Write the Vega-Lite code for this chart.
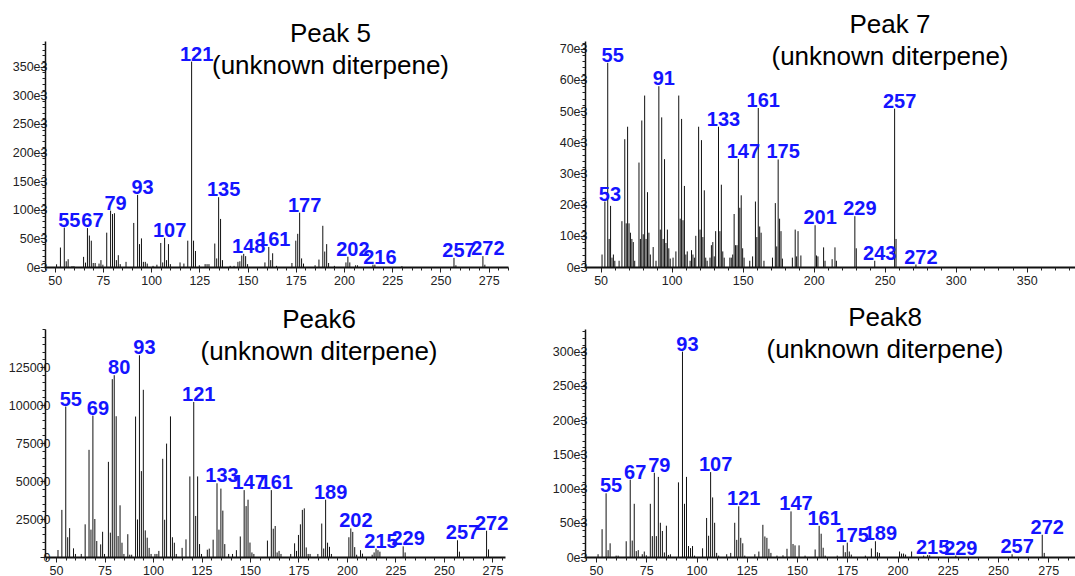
{
"$schema": "https://vega.github.io/schema/vega-lite/v6.json",
"padding": {"left": 8, "top": 12, "right": 0, "bottom": 0},
"background": "white",
"config": {
 "view": {"stroke": null},
 "axis": {"grid": false, "title": null, "labelFont": "Liberation Sans", "labelFontSize": 12.5, "labelColor": "#222", "tickColor": "#222", "domainColor": "#111", "labelOverlap": false, "labelFlush": false},
 "title": {"font": "Liberation Sans", "fontSize": 26, "fontWeight": "normal", "color": "black", "lineHeight": 32, "anchor": "middle", "frame": "group"}
},
"datasets": {
 "p5": [
  {"mz":51,"i":4700},{"mz":53,"i":34000},{"mz":55,"i":69000,"label":"55"},{"mz":56,"i":10000},{"mz":57,"i":13600},{"mz":59,"i":1500},{"mz":60,"i":1500},
  {"mz":65,"i":17700},{"mz":66,"i":7700},{"mz":67,"i":68000,"label":"67"},{"mz":68,"i":55000},{"mz":69,"i":46000},{"mz":70,"i":7000},{"mz":71,"i":7000},
  {"mz":73,"i":6000},{"mz":74,"i":12000},{"mz":75,"i":4000},{"mz":77,"i":60000},{"mz":79,"i":98500,"label":"79"},{"mz":80,"i":92600},{"mz":81,"i":94000},
  {"mz":82,"i":12000},{"mz":83,"i":20600},{"mz":84,"i":5000},{"mz":87,"i":9000},{"mz":91,"i":77000},{"mz":93,"i":126000,"label":"93"},{"mz":94,"i":40000},
  {"mz":95,"i":50000},{"mz":96,"i":9000},{"mz":97,"i":9000},{"mz":98,"i":6000},{"mz":101,"i":2000},{"mz":103,"i":4000},{"mz":105,"i":42000},{"mz":106,"i":8000},
  {"mz":107,"i":51000,"label":"107"},{"mz":108,"i":12000},{"mz":109,"i":40000},{"mz":110,"i":5000},{"mz":115,"i":8000},{"mz":117,"i":6000},{"mz":119,"i":46000},
  {"mz":121,"i":359000,"label":"121"},{"mz":122,"i":46000},{"mz":123,"i":28000},{"mz":125,"i":3000},{"mz":128,"i":5000},{"mz":129,"i":5000},{"mz":130,"i":5000},
  {"mz":133,"i":41000},{"mz":134,"i":15000},{"mz":135,"i":122000,"label":"135"},{"mz":136,"i":84000},{"mz":137,"i":12000},{"mz":141,"i":2000},{"mz":143,"i":2000},
  {"mz":145,"i":9000},{"mz":146,"i":10000},{"mz":147,"i":20000},{"mz":148,"i":23000,"label":"148"},{"mz":149,"i":19000},{"mz":150,"i":5000},
  {"mz":159,"i":8000},{"mz":161,"i":35000,"label":"161"},{"mz":162,"i":12000},{"mz":163,"i":24000},{"mz":165,"i":2000},
  {"mz":173,"i":7000},{"mz":175,"i":46000},{"mz":176,"i":58000},{"mz":177,"i":95000,"label":"177"},{"mz":178,"i":15000},{"mz":179,"i":6000},
  {"mz":185,"i":3000},{"mz":187,"i":13000},{"mz":189,"i":72000},{"mz":190,"i":27000},{"mz":191,"i":40000},{"mz":192,"i":7000},{"mz":195,"i":2000},
  {"mz":201,"i":8000},{"mz":202,"i":18000,"label":"202"},{"mz":203,"i":8000},{"mz":206,"i":3000},{"mz":207,"i":3000},{"mz":215,"i":4000},{"mz":216,"i":4000,"label":"216"},
  {"mz":230,"i":1500},{"mz":257,"i":16000,"label":"257"},{"mz":258,"i":3000},{"mz":272,"i":19000,"label":"272"},{"mz":273,"i":4000}
 ],
 "p7": [
  {"mz":51,"i":4000},{"mz":53,"i":21000,"label":"53"},{"mz":55,"i":65500,"label":"55"},{"mz":56,"i":9000},{"mz":57,"i":19600},{"mz":58,"i":3000},{"mz":59,"i":4000},{"mz":60,"i":2000},
  {"mz":63,"i":2000},{"mz":65,"i":14700},{"mz":67,"i":41000},{"mz":68,"i":14000},{"mz":69,"i":45000},{"mz":70,"i":14000},{"mz":71,"i":11000},{"mz":72,"i":9000},{"mz":73,"i":8000},{"mz":74,"i":2000},
  {"mz":77,"i":33500},{"mz":78,"i":9000},{"mz":79,"i":47000},{"mz":80,"i":10500},{"mz":81,"i":55000},{"mz":82,"i":9000},{"mz":83,"i":24000},{"mz":84,"i":11000},{"mz":85,"i":4000},{"mz":87,"i":6400},
  {"mz":89,"i":2000},{"mz":91,"i":58000,"label":"91"},{"mz":92,"i":12000},{"mz":93,"i":48000},{"mz":94,"i":9000},{"mz":95,"i":34600},{"mz":96,"i":7700},{"mz":97,"i":12000},{"mz":98,"i":6000},{"mz":99,"i":2700},
  {"mz":101,"i":3000},{"mz":103,"i":5000},{"mz":105,"i":55000},{"mz":106,"i":15500},{"mz":107,"i":47500},{"mz":108,"i":15000},{"mz":109,"i":26000},{"mz":110,"i":4000},{"mz":111,"i":5000},
  {"mz":113,"i":2000},{"mz":114,"i":5400},{"mz":115,"i":4000},{"mz":116,"i":3000},{"mz":117,"i":10000},{"mz":119,"i":45000},{"mz":120,"i":12000},{"mz":121,"i":40700},{"mz":122,"i":9600},{"mz":123,"i":24600},{"mz":124,"i":3000},{"mz":125,"i":2000},
  {"mz":127,"i":3000},{"mz":128,"i":7000},{"mz":129,"i":8000},{"mz":130,"i":3400},{"mz":131,"i":11500},{"mz":133,"i":45000,"label":"133"},{"mz":134,"i":11500},{"mz":135,"i":26400},{"mz":136,"i":5000},{"mz":137,"i":3000},
  {"mz":141,"i":3000},{"mz":142,"i":3000},{"mz":143,"i":4000},{"mz":144,"i":17000},{"mz":145,"i":7000},{"mz":146,"i":7000},{"mz":147,"i":34700,"label":"147"},{"mz":148,"i":19000},{"mz":149,"i":23000},{"mz":150,"i":6000},{"mz":151,"i":3000},
  {"mz":155,"i":2000},{"mz":157,"i":3400},{"mz":159,"i":21000},{"mz":160,"i":9600},{"mz":161,"i":51000,"label":"161"},{"mz":162,"i":13000},{"mz":163,"i":11000},{"mz":165,"i":2000},
  {"mz":171,"i":3000},{"mz":173,"i":20500},{"mz":174,"i":6600},{"mz":175,"i":34500,"label":"175"},{"mz":176,"i":15500},{"mz":177,"i":11500},{"mz":178,"i":2700},
  {"mz":185,"i":3000},{"mz":187,"i":12000},{"mz":188,"i":3400},{"mz":189,"i":11500},{"mz":191,"i":3700},
  {"mz":201,"i":13400,"label":"201"},{"mz":202,"i":3700},{"mz":203,"i":3400},{"mz":207,"i":6300},{"mz":208,"i":2000},{"mz":213,"i":2500},{"mz":215,"i":6300},{"mz":216,"i":2000},
  {"mz":229,"i":16300,"label":"229"},{"mz":230,"i":6000},{"mz":243,"i":2000,"label":"243"},{"mz":257,"i":50800,"label":"257"},{"mz":258,"i":9000},{"mz":272,"i":800,"label":"272"}
 ],
 "p6": [
  {"mz":51,"i":4600},{"mz":53,"i":31000},{"mz":55,"i":99000,"label":"55"},{"mz":56,"i":13000},{"mz":57,"i":19000},{"mz":59,"i":5700},{"mz":60,"i":2000},{"mz":63,"i":2000},
  {"mz":65,"i":21500},{"mz":67,"i":70500},{"mz":68,"i":18000},{"mz":69,"i":93000,"label":"69"},{"mz":70,"i":25000},{"mz":71,"i":10500},{"mz":73,"i":8300},{"mz":74,"i":16600},{"mz":75,"i":2000},
  {"mz":77,"i":62600},{"mz":78,"i":16000},{"mz":79,"i":117000},{"mz":80,"i":119600,"label":"80"},{"mz":81,"i":92600},{"mz":82,"i":13800},{"mz":83,"i":34000},{"mz":84,"i":9400},{"mz":85,"i":2000},
  {"mz":87,"i":15000},{"mz":88,"i":1500},{"mz":89,"i":1500},{"mz":91,"i":92400},{"mz":92,"i":24700},{"mz":93,"i":132700,"label":"93"},{"mz":94,"i":56500},{"mz":95,"i":110000},{"mz":96,"i":17500},{"mz":97,"i":12700},{"mz":98,"i":6000},{"mz":99,"i":2000},
  {"mz":101,"i":2000},{"mz":102,"i":2000},{"mz":103,"i":4000},{"mz":105,"i":64600},{"mz":106,"i":24500},{"mz":107,"i":74600},{"mz":109,"i":92500},{"mz":110,"i":13000},{"mz":111,"i":9400},{"mz":112,"i":2000},
  {"mz":115,"i":6000},{"mz":117,"i":11600},{"mz":119,"i":53000},{"mz":121,"i":102000,"label":"121"},{"mz":122,"i":27000},{"mz":123,"i":53000},{"mz":124,"i":8500},{"mz":125,"i":2000},
  {"mz":128,"i":4800},{"mz":129,"i":5500},{"mz":131,"i":11400},{"mz":133,"i":48500,"label":"133"},{"mz":134,"i":18000},{"mz":135,"i":45000},{"mz":136,"i":30500},{"mz":137,"i":8500},{"mz":139,"i":2000},
  {"mz":141,"i":2000},{"mz":143,"i":4500},{"mz":145,"i":13500},{"mz":147,"i":44000,"label":"147"},{"mz":148,"i":33500},{"mz":149,"i":37700},{"mz":150,"i":9500},{"mz":151,"i":3000},{"mz":152,"i":2000},
  {"mz":159,"i":10800},{"mz":161,"i":44000,"label":"161"},{"mz":162,"i":18600},{"mz":163,"i":20400},{"mz":164,"i":3000},{"mz":165,"i":4000},{"mz":166,"i":2000},
  {"mz":171,"i":2000},{"mz":173,"i":9000},{"mz":174,"i":4000},{"mz":175,"i":14500},{"mz":176,"i":21500},{"mz":177,"i":31000},{"mz":178,"i":32000},{"mz":179,"i":6300},{"mz":180,"i":2000},{"mz":181,"i":2000},
  {"mz":185,"i":2000},{"mz":187,"i":22000},{"mz":188,"i":5600},{"mz":189,"i":37700,"label":"189"},{"mz":190,"i":9400},{"mz":191,"i":6700},{"mz":192,"i":2000},
  {"mz":201,"i":13000},{"mz":202,"i":18800,"label":"202"},{"mz":203,"i":16500},{"mz":204,"i":6500},{"mz":205,"i":1500},{"mz":207,"i":4500},{"mz":208,"i":2200},
  {"mz":213,"i":1500},{"mz":214,"i":3000},{"mz":215,"i":5500,"label":"215"},{"mz":216,"i":4500},{"mz":217,"i":3500},
  {"mz":229,"i":7000,"label":"229"},{"mz":230,"i":3000},{"mz":257,"i":11000,"label":"257"},{"mz":258,"i":3500},{"mz":272,"i":17300,"label":"272"},{"mz":273,"i":5000}
 ],
 "p8": [
  {"mz":51,"i":4000},{"mz":53,"i":40600},{"mz":55,"i":93000,"label":"55"},{"mz":56,"i":10000},{"mz":57,"i":20000},{"mz":60,"i":2000},{"mz":61,"i":2000},
  {"mz":65,"i":23000},{"mz":67,"i":113000,"label":"67"},{"mz":68,"i":24000},{"mz":69,"i":77700},{"mz":70,"i":8600},{"mz":71,"i":10000},{"mz":73,"i":4000},{"mz":74,"i":8000},{"mz":75,"i":2500},
  {"mz":77,"i":77700},{"mz":78,"i":30500},{"mz":79,"i":123000,"label":"79"},{"mz":80,"i":30500},{"mz":81,"i":117000},{"mz":82,"i":50000},{"mz":83,"i":38000},{"mz":84,"i":6600},{"mz":85,"i":45700},{"mz":86,"i":3000},{"mz":87,"i":4000},
  {"mz":91,"i":109000},{"mz":93,"i":300000,"label":"93"},{"mz":94,"i":77700},{"mz":95,"i":117000},{"mz":96,"i":16000},{"mz":97,"i":13000},{"mz":98,"i":16000},{"mz":99,"i":2000},
  {"mz":103,"i":12700},{"mz":105,"i":57000},{"mz":106,"i":31000},{"mz":107,"i":124000,"label":"107"},{"mz":108,"i":87000},{"mz":109,"i":50000},{"mz":110,"i":6000},{"mz":111,"i":2000},
  {"mz":115,"i":4000},{"mz":117,"i":6000},{"mz":119,"i":50000},{"mz":120,"i":25000},{"mz":121,"i":74000,"label":"121"},{"mz":122,"i":28000},{"mz":123,"i":20000},{"mz":124,"i":2000},
  {"mz":129,"i":4000},{"mz":131,"i":8000},{"mz":133,"i":47000},{"mz":134,"i":30000},{"mz":135,"i":28000},{"mz":136,"i":12000},{"mz":137,"i":6000},
  {"mz":140,"i":2000},{"mz":143,"i":2500},{"mz":145,"i":12000},{"mz":147,"i":66600,"label":"147"},{"mz":148,"i":19000},{"mz":149,"i":17000},{"mz":151,"i":17000},{"mz":154,"i":2000},
  {"mz":159,"i":11000},{"mz":161,"i":45500,"label":"161"},{"mz":162,"i":34000},{"mz":163,"i":13500},{"mz":164,"i":2000},
  {"mz":170,"i":2000},{"mz":173,"i":17000},{"mz":174,"i":7000},{"mz":175,"i":21000,"label":"175"},{"mz":176,"i":8000},{"mz":177,"i":3500},
  {"mz":184,"i":2000},{"mz":187,"i":12500},{"mz":189,"i":23000,"label":"189"},{"mz":190,"i":7000},{"mz":191,"i":6000},
  {"mz":201,"i":8000},{"mz":202,"i":5000},{"mz":203,"i":5000},{"mz":204,"i":3500},{"mz":207,"i":8000},
  {"mz":213,"i":2000},{"mz":215,"i":3000,"label":"215"},{"mz":216,"i":2500},{"mz":229,"i":2000,"label":"229"},{"mz":257,"i":4000,"label":"257"},{"mz":272,"i":32500,"label":"272"},{"mz":273,"i":6000}
 ]
},
"bounds": "flush",
"columns": 2,
"spacing": {"row": 62, "column": 77},
"concat": [
 {
  "width": 463, "height": 226,
  "data": {"name": "p5"},
  "title": {"text": ["Peak 5", "(unknown diterpene)"], "offset": -38, "dx": 54},
  "resolve": {"axis": {"x": "independent", "y": "independent"}},
  "layer": [
   {"mark": {"type": "rule", "color": "#111", "strokeWidth": 1},
    "encoding": {
     "x": {"field": "mz", "type": "quantitative", "scale": {"domain": [45, 285], "nice": false, "zero": false},
      "axis": {"orient": "bottom", "values": [50,75,100,125,150,175,200,225,250,275], "tickSize": 5, "labelPadding": 2, "domainWidth": 2}},
     "y": {"field": "i", "type": "quantitative", "scale": {"domain": [0, 395000], "nice": false},
      "axis": {"orient": "left", "values": [0,50000,100000,150000,200000,250000,300000,350000], "labelExpr": "(datum.value/1000) + 'e3'", "tickSize": 5, "labelPadding": -7, "domainWidth": 1.5}},
     "y2": {"datum": 0}
    }},
   {"transform": [{"filter": "datum.label"}],
    "mark": {"type": "text", "font": "Liberation Sans", "fontWeight": "bold", "fontSize": 20, "fill": "#1414ff", "align": "center", "baseline": "alphabetic", "dx": 5, "dy": -1},
    "encoding": {
     "x": {"field": "mz", "type": "quantitative", "scale": {"domain": [45, 285], "nice": false, "zero": false},
      "axis": {"orient": "bottom", "values": [45,50,55,60,65,70,75,80,85,90,95,100,105,110,115,120,125,130,135,140,145,150,155,160,165,170,175,180,185,190,195,200,205,210,215,220,225,230,235,240,245,250,255,260,265,270,275,280,285], "labels": false, "domain": false, "tickSize": 3}},
     "y": {"field": "i", "type": "quantitative", "scale": {"domain": [0, 395000], "nice": false},
      "axis": {"orient": "left", "values": [10000,20000,30000,40000,60000,70000,80000,90000,110000,120000,130000,140000,160000,170000,180000,190000,210000,220000,230000,240000,260000,270000,280000,290000,310000,320000,330000,340000,360000,370000,380000,390000], "labels": false, "domain": false, "tickSize": 3}},
     "text": {"field": "label"}
    }}
  ]
 },
 {
  "width": 490, "height": 226,
  "data": {"name": "p7"},
  "title": {"text": ["Peak 7", "(unknown diterpene)"], "offset": -29, "dx": 60},
  "resolve": {"axis": {"x": "independent", "y": "independent"}},
  "layer": [
   {"mark": {"type": "rule", "color": "#111", "strokeWidth": 1},
    "encoding": {
     "x": {"field": "mz", "type": "quantitative", "scale": {"domain": [39, 384], "nice": false, "zero": false},
      "axis": {"orient": "bottom", "values": [50,100,150,200,250,300,350], "tickSize": 5, "labelPadding": 2, "domainWidth": 2}},
     "y": {"field": "i", "type": "quantitative", "scale": {"domain": [0, 72500], "nice": false},
      "axis": {"orient": "left", "values": [0,10000,20000,30000,40000,50000,60000,70000], "labelExpr": "(datum.value/1000) + 'e3'", "tickSize": 5, "labelPadding": -7, "domainWidth": 1.5}},
     "y2": {"datum": 0}
    }},
   {"transform": [{"filter": "datum.label"}],
    "mark": {"type": "text", "font": "Liberation Sans", "fontWeight": "bold", "fontSize": 20, "fill": "#1414ff", "align": "center", "baseline": "alphabetic", "dx": 5, "dy": -1},
    "encoding": {
     "x": {"field": "mz", "type": "quantitative", "scale": {"domain": [39, 384], "nice": false, "zero": false},
      "axis": {"orient": "bottom", "values": [40,60,70,80,90,110,120,130,140,160,170,180,190,210,220,230,240,260,270,280,290,310,320,330,340,360,370,380], "labels": false, "domain": false, "tickSize": 3}},
     "y": {"field": "i", "type": "quantitative", "scale": {"domain": [0, 72500], "nice": false},
      "axis": {"orient": "left", "values": [2000,4000,6000,8000,12000,14000,16000,18000,22000,24000,26000,28000,32000,34000,36000,38000,42000,44000,46000,48000,52000,54000,56000,58000,62000,64000,66000,68000,72000], "labels": false, "domain": false, "tickSize": 3}},
     "text": {"field": "label"}
    }}
  ]
 },
 {
  "width": 460, "height": 228,
  "data": {"name": "p6"},
  "title": {"text": ["Peak6", "(unknown diterpene)"], "offset": -36, "dx": 44},
  "resolve": {"axis": {"x": "independent", "y": "independent"}},
  "layer": [
   {"mark": {"type": "rule", "color": "#111", "strokeWidth": 1},
    "encoding": {
     "x": {"field": "mz", "type": "quantitative", "scale": {"domain": [44.3, 281.5], "nice": false, "zero": false},
      "axis": {"orient": "bottom", "values": [50,75,100,125,150,175,200,225,250,275], "tickSize": 5, "labelPadding": 2, "domainWidth": 2}},
     "y": {"field": "i", "type": "quantitative", "scale": {"domain": [0, 150000], "nice": false},
      "axis": {"orient": "left", "values": [0,25000,50000,75000,100000,125000], "format": "d", "tickSize": 5, "labelPadding": -10, "domainWidth": 1.5}},
     "y2": {"datum": 0}
    }},
   {"transform": [{"filter": "datum.label"}],
    "mark": {"type": "text", "font": "Liberation Sans", "fontWeight": "bold", "fontSize": 20, "fill": "#1414ff", "align": "center", "baseline": "alphabetic", "dx": 5, "dy": -1},
    "encoding": {
     "x": {"field": "mz", "type": "quantitative", "scale": {"domain": [44.3, 281.5], "nice": false, "zero": false},
      "axis": {"orient": "bottom", "values": [45,50,55,60,65,70,75,80,85,90,95,100,105,110,115,120,125,130,135,140,145,150,155,160,165,170,175,180,185,190,195,200,205,210,215,220,225,230,235,240,245,250,255,260,265,270,275,280], "labels": false, "domain": false, "tickSize": 3}},
     "y": {"field": "i", "type": "quantitative", "scale": {"domain": [0, 150000], "nice": false},
      "axis": {"orient": "left", "values": [5000,10000,15000,20000,30000,35000,40000,45000,55000,60000,65000,70000,80000,85000,90000,95000,105000,110000,115000,120000,130000,135000,140000,145000,150000], "labels": false, "domain": false, "tickSize": 3}},
     "text": {"field": "label"}
    }}
  ]
 },
 {
  "width": 490, "height": 228,
  "data": {"name": "p8"},
  "title": {"text": ["Peak8", "(unknown diterpene)"], "offset": -34, "dx": 55},
  "resolve": {"axis": {"x": "independent", "y": "independent"}},
  "layer": [
   {"mark": {"type": "rule", "color": "#111", "strokeWidth": 1},
    "encoding": {
     "x": {"field": "mz", "type": "quantitative", "scale": {"domain": [44.5, 288.3], "nice": false, "zero": false},
      "axis": {"orient": "bottom", "values": [50,75,100,125,150,175,200,225,250,275], "tickSize": 5, "labelPadding": 2, "domainWidth": 2}},
     "y": {"field": "i", "type": "quantitative", "scale": {"domain": [0, 333000], "nice": false},
      "axis": {"orient": "left", "values": [0,50000,100000,150000,200000,250000,300000], "labelExpr": "(datum.value/1000) + 'e3'", "tickSize": 5, "labelPadding": -7, "domainWidth": 1.5}},
     "y2": {"datum": 0}
    }},
   {"transform": [{"filter": "datum.label"}],
    "mark": {"type": "text", "font": "Liberation Sans", "fontWeight": "bold", "fontSize": 20, "fill": "#1414ff", "align": "center", "baseline": "alphabetic", "dx": 5, "dy": -1},
    "encoding": {
     "x": {"field": "mz", "type": "quantitative", "scale": {"domain": [44.5, 288.3], "nice": false, "zero": false},
      "axis": {"orient": "bottom", "values": [45,50,55,60,65,70,75,80,85,90,95,100,105,110,115,120,125,130,135,140,145,150,155,160,165,170,175,180,185,190,195,200,205,210,215,220,225,230,235,240,245,250,255,260,265,270,275,280,285], "labels": false, "domain": false, "tickSize": 3}},
     "y": {"field": "i", "type": "quantitative", "scale": {"domain": [0, 333000], "nice": false},
      "axis": {"orient": "left", "values": [10000,20000,30000,40000,60000,70000,80000,90000,110000,120000,130000,140000,160000,170000,180000,190000,210000,220000,230000,240000,260000,270000,280000,290000,310000,320000,330000], "labels": false, "domain": false, "tickSize": 3}},
     "text": {"field": "label"}
    }}
  ]
 }
]
}
